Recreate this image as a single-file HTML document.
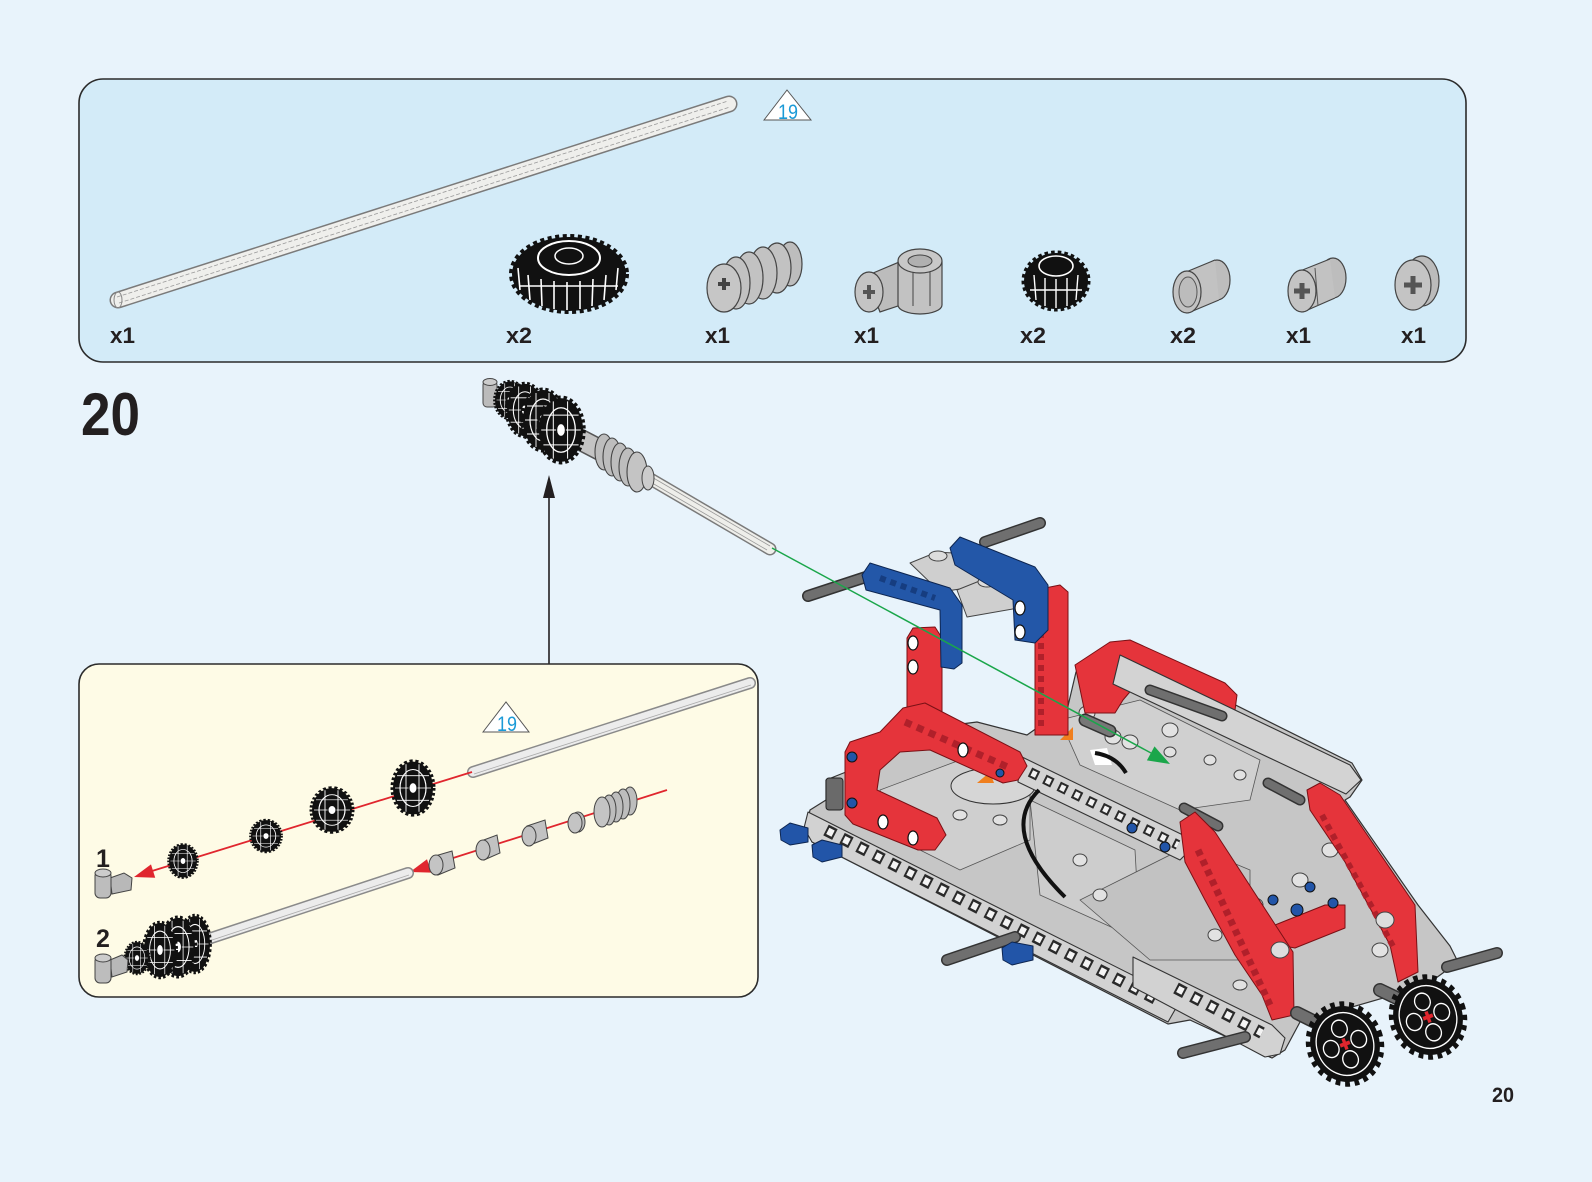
<!DOCTYPE html>
<html><head><meta charset="utf-8"><style>
html,body{margin:0;padding:0;background:#e8f3fb;}
svg{display:block;}
text{font-family:"Liberation Sans",sans-serif;fill:#231f20;}
</style></head><body>
<svg width="1592" height="1182" viewBox="0 0 1592 1182" xmlns="http://www.w3.org/2000/svg">
<defs>
 <g id="gs">
  <ellipse rx="20" ry="30" fill="#111" stroke="#111" stroke-width="5" stroke-dasharray="3 2.5"/>
  <ellipse rx="13" ry="21" fill="none" stroke="#fff" stroke-width="1.2"/>
  <path d="M-16,-14 L16,-14 M-18,0 L18,0 M-16,14 L16,14 M-7,-27 L-7,27 M6,-27 L6,27" stroke="#fff" stroke-width="0.9" fill="none"/>
  <ellipse rx="4" ry="6" fill="#fff" stroke="#111"/>
 </g>
 <g id="gf">
  <circle r="40" fill="#111" stroke="#111" stroke-width="10" stroke-dasharray="5.2 5.2"/>
  <circle r="33" fill="none" stroke="#fff" stroke-width="1.5"/>
  <circle cx="0" cy="-17" r="9" fill="#111" stroke="#fff" stroke-width="1.5"/>
  <circle cx="17" cy="0" r="9" fill="#111" stroke="#fff" stroke-width="1.5"/>
  <circle cx="0" cy="17" r="9" fill="#111" stroke="#fff" stroke-width="1.5"/>
  <circle cx="-17" cy="0" r="9" fill="#111" stroke="#fff" stroke-width="1.5"/>
  <path d="M-6,-2 L6,-2 L6,2 L-6,2 Z M-2,-6 L2,-6 L2,6 L-2,6 Z" fill="#e0262e"/>
 </g>
</defs>

<rect width="1592" height="1182" fill="#e8f3fb"/>

<!-- PARTS PANEL -->
<rect x="79" y="79" width="1387" height="283" rx="24" fill="#d3ebf8" stroke="#2b2b2b" stroke-width="1.6"/>

<!-- long axle -->
<line x1="118" y1="300" x2="729" y2="104" stroke="#7a7a7a" stroke-width="17" stroke-linecap="round"/>
<line x1="118" y1="300" x2="729" y2="104" stroke="#efefec" stroke-width="14" stroke-linecap="round"/>
<line x1="119" y1="303" x2="730" y2="107" stroke="#9a9a9a" stroke-width="0.8" stroke-dasharray="4 2"/>
<line x1="117" y1="297" x2="728" y2="101" stroke="#9a9a9a" stroke-width="0.8" stroke-dasharray="4 2"/>
<ellipse cx="118" cy="300" rx="4" ry="8" fill="none" stroke="#888" stroke-width="1"/>

<!-- triangle 19 -->
<polygon points="764,120 787,90 811,120" fill="#ffffff" stroke="#555" stroke-width="1"/>
<text x="778" y="119" font-size="21" textLength="20" lengthAdjust="spacingAndGlyphs" style="fill:#1b9ad7">19</text>

<!-- gear x2 -->
<ellipse cx="569" cy="274" rx="57" ry="37" fill="#111" stroke="#111" stroke-width="6" stroke-dasharray="4 3.5"/>
<ellipse cx="569" cy="258" rx="31" ry="17" fill="none" stroke="#fff" stroke-width="2"/>
<ellipse cx="569" cy="256" rx="14" ry="8" fill="none" stroke="#fff" stroke-width="1.5"/>
<path d="M528,275 L530,300 M541,279 L542,306 M554,281 L554,309 M567,282 L567,310 M580,281 L580,309 M593,279 L592,306 M606,275 L604,300 M518,268 L520,290 M618,268 L616,290 M520,286 L618,286" stroke="#fff" stroke-width="1.6" fill="none"/>

<!-- worm -->
<ellipse cx="790" cy="264" rx="12" ry="22" fill="#bdbdbd" stroke="#444" stroke-width="1.2"/>
<ellipse cx="777" cy="268" rx="14" ry="25" fill="#c2c2c2" stroke="#444" stroke-width="1.2"/>
<ellipse cx="763" cy="273" rx="14" ry="26" fill="#c2c2c2" stroke="#444" stroke-width="1.2"/>
<ellipse cx="749" cy="278" rx="14" ry="26" fill="#c2c2c2" stroke="#444" stroke-width="1.2"/>
<ellipse cx="736" cy="283" rx="14" ry="26" fill="#c2c2c2" stroke="#444" stroke-width="1.2"/>
<ellipse cx="724" cy="288" rx="17" ry="24" fill="#c6c6c6" stroke="#444" stroke-width="1.2"/>
<path d="M718,284 h12 M724,278 v12" stroke="#444" stroke-width="4"/>

<!-- pin connector -->
<path d="M866,276 L904,260 L916,262 L916,300 L880,312 Z" fill="#bcbcbc" stroke="#444" stroke-width="1.2"/>
<path d="M898,262 L898,305 A22,9 0 0 0 942,305 L942,262 Z" fill="#c2c2c2" stroke="#444" stroke-width="1.2"/>
<ellipse cx="920" cy="261" rx="22" ry="12" fill="#c8c8c8" stroke="#444" stroke-width="1.2"/>
<ellipse cx="920" cy="261" rx="12" ry="6" fill="#b0b0b0" stroke="#444" stroke-width="1"/>
<line x1="913" y1="272" x2="913" y2="306" stroke="#444" stroke-width="1"/>
<line x1="930" y1="272" x2="930" y2="306" stroke="#444" stroke-width="1"/>
<ellipse cx="869" cy="292" rx="14" ry="20" fill="#c4c4c4" stroke="#444" stroke-width="1.2"/>
<path d="M863,292 h12 M869,285 v14" stroke="#555" stroke-width="4"/>

<!-- small gear x2 -->
<ellipse cx="1056" cy="281" rx="32" ry="28" fill="#111" stroke="#111" stroke-width="5" stroke-dasharray="3.5 3"/>
<ellipse cx="1056" cy="266" rx="17" ry="10" fill="none" stroke="#fff" stroke-width="1.6"/>
<path d="M1034,275 L1036,300 M1045,278 L1045,306 M1056,279 L1056,308 M1067,278 L1067,306 M1078,275 L1076,300 M1030,290 L1082,290" stroke="#fff" stroke-width="1.4" fill="none"/>

<!-- bushing -->
<ellipse cx="1217" cy="280" rx="13" ry="20" fill="#bdbdbd" stroke="#444" stroke-width="1.2"/>
<polygon points="1186,272 1215,260 1219,300 1188,313" fill="#c2c2c2"/>
<line x1="1186" y1="272" x2="1215" y2="260" stroke="#444" stroke-width="1.2"/>
<line x1="1188" y1="313" x2="1219" y2="300" stroke="#444" stroke-width="1.2"/>
<ellipse cx="1187" cy="292" rx="14" ry="21" fill="#c2c2c2" stroke="#444" stroke-width="1.2"/>
<ellipse cx="1188" cy="292" rx="9" ry="15" fill="#bcbcbc" stroke="#555" stroke-width="1"/>

<!-- axle connector -->
<ellipse cx="1333" cy="278" rx="13" ry="20" fill="#bdbdbd" stroke="#444" stroke-width="1.2"/>
<polygon points="1300,272 1330,259 1335,298 1303,312" fill="#c2c2c2"/>
<line x1="1300" y1="271" x2="1330" y2="259" stroke="#444" stroke-width="1.2"/>
<line x1="1303" y1="312" x2="1335" y2="298" stroke="#444" stroke-width="1.2"/>
<line x1="1315" y1="268" x2="1318" y2="306" stroke="#555" stroke-width="1"/>
<ellipse cx="1302" cy="291" rx="14" ry="21" fill="#c4c4c4" stroke="#444" stroke-width="1.2"/>
<path d="M1294,291 h16 M1302,283 v16" stroke="#555" stroke-width="5"/>

<!-- half bush -->
<ellipse cx="1422" cy="281" rx="17" ry="25" fill="#bbb" stroke="#444" stroke-width="1.2"/>
<ellipse cx="1413" cy="285" rx="18" ry="25" fill="#c4c4c4" stroke="#444" stroke-width="1.2"/>
<path d="M1404,285 h18 M1413,276 v18" stroke="#555" stroke-width="5"/>

<!-- quantities -->
<g font-size="22" font-weight="bold">
<text x="110" y="343" textLength="25" lengthAdjust="spacingAndGlyphs">x1</text>
<text x="506" y="343" textLength="26" lengthAdjust="spacingAndGlyphs">x2</text>
<text x="705" y="343" textLength="25" lengthAdjust="spacingAndGlyphs">x1</text>
<text x="854" y="343" textLength="25" lengthAdjust="spacingAndGlyphs">x1</text>
<text x="1020" y="343" textLength="26" lengthAdjust="spacingAndGlyphs">x2</text>
<text x="1170" y="343" textLength="26" lengthAdjust="spacingAndGlyphs">x2</text>
<text x="1286" y="343" textLength="25" lengthAdjust="spacingAndGlyphs">x1</text>
<text x="1401" y="343" textLength="25" lengthAdjust="spacingAndGlyphs">x1</text>
</g>

<!-- step number -->
<text x="81" y="435" font-size="60" font-weight="bold" textLength="59" lengthAdjust="spacingAndGlyphs">20</text>

<!-- MAIN SUBASSEMBLY (top) -->
<line x1="647" y1="477" x2="770" y2="549" stroke="#7a7a7a" stroke-width="13" stroke-linecap="round"/>
<line x1="647" y1="477" x2="770" y2="549" stroke="#eeeeea" stroke-width="10" stroke-linecap="round"/>
<line x1="650" y1="476" x2="770" y2="546" stroke="#999" stroke-width="0.8"/>
<line x1="647" y1="480" x2="767" y2="550" stroke="#999" stroke-width="0.8"/>
<line x1="552" y1="425" x2="604" y2="452" stroke="#555" stroke-width="22" stroke-linecap="round"/>
<line x1="552" y1="425" x2="604" y2="452" stroke="#c4c4c4" stroke-width="19" stroke-linecap="round"/>
<ellipse cx="604" cy="452" rx="9" ry="18" fill="#bdbdbd" stroke="#444" stroke-width="1.1"/>
<ellipse cx="612" cy="457" rx="9" ry="19" fill="#bdbdbd" stroke="#444" stroke-width="1.1"/>
<ellipse cx="620" cy="462" rx="9" ry="19" fill="#bdbdbd" stroke="#444" stroke-width="1.1"/>
<ellipse cx="628" cy="467" rx="9" ry="19" fill="#bdbdbd" stroke="#444" stroke-width="1.1"/>
<ellipse cx="637" cy="472" rx="10" ry="20" fill="#c4c4c4" stroke="#444" stroke-width="1.1"/>
<ellipse cx="648" cy="478" rx="6" ry="12" fill="#ccc" stroke="#444" stroke-width="1"/>
<rect x="483" y="381" width="14" height="26" rx="4" fill="#bbb" stroke="#444" stroke-width="1"/>
<ellipse cx="490" cy="382" rx="7" ry="3.5" fill="#ccc" stroke="#444" stroke-width="1"/>
<use href="#gs" transform="translate(510,400) scale(0.75,0.62)"/>
<use href="#gs" transform="translate(525,410) scale(0.9,0.87)"/>
<use href="#gs" transform="translate(543,420) scale(1.0,1.0)"/>
<use href="#gs" transform="translate(561,430) scale(1.1,1.06)"/>

<!-- up arrow -->
<line x1="549" y1="664" x2="549" y2="495" stroke="#231f20" stroke-width="1.6"/>
<polygon points="549,475 543,498 555,498" fill="#231f20"/>

<!-- YELLOW PANEL -->
<rect x="79" y="664" width="679" height="333" rx="20" fill="#fefbe6" stroke="#2b2b2b" stroke-width="1.6"/>
<polygon points="483,732 506,702 529,732" fill="#ffffff" stroke="#555" stroke-width="1"/>
<text x="497" y="731" font-size="21" textLength="20" lengthAdjust="spacingAndGlyphs" style="fill:#1b9ad7">19</text>

<!-- long axle in sub panel -->
<line x1="473" y1="772" x2="750" y2="683" stroke="#8a8a8a" stroke-width="12" stroke-linecap="round"/>
<line x1="473" y1="772" x2="750" y2="683" stroke="#ececec" stroke-width="9" stroke-linecap="round"/>
<line x1="474" y1="774" x2="751" y2="685" stroke="#aaa" stroke-width="0.8"/>
<!-- red line 1 -->
<line x1="472" y1="772" x2="152" y2="871" stroke="#e0262e" stroke-width="1.8"/>
<polygon points="134,877 155.2,877.8 151,864.4" fill="#e0262e"/>
<use href="#gs" transform="translate(413,788) scale(1.0,0.88)"/>
<use href="#gs" transform="translate(332,810) scale(1.0,0.73)"/>
<use href="#gs" transform="translate(266,836) scale(0.75,0.53)"/>
<use href="#gs" transform="translate(183,861) scale(0.7,0.55)"/>
<!-- connector 1 -->
<polygon points="110,878 124,873 132,878 131,890 112,894" fill="#b8b8b8" stroke="#444" stroke-width="1"/>
<rect x="95" y="871" width="16" height="27" rx="5" fill="#bdbdbd" stroke="#444" stroke-width="1"/>
<ellipse cx="103" cy="873" rx="8" ry="4" fill="#ccc" stroke="#444" stroke-width="1"/>
<text x="96" y="867" font-size="25" font-weight="bold">1</text>

<!-- red line 2 -->
<line x1="667" y1="790" x2="428" y2="866" stroke="#e0262e" stroke-width="1.8"/>
<polygon points="410,872 431.2,872.6 427,859.2" fill="#e0262e"/>
<!-- worm -->
<ellipse cx="630" cy="801" rx="7" ry="14" fill="#bdbdbd" stroke="#444" stroke-width="1"/>
<ellipse cx="623" cy="804" rx="7" ry="15" fill="#bdbdbd" stroke="#444" stroke-width="1"/>
<ellipse cx="616" cy="807" rx="7" ry="15" fill="#bdbdbd" stroke="#444" stroke-width="1"/>
<ellipse cx="609" cy="810" rx="7" ry="15" fill="#bdbdbd" stroke="#444" stroke-width="1"/>
<ellipse cx="602" cy="812" rx="8" ry="15" fill="#c4c4c4" stroke="#444" stroke-width="1"/>
<!-- half bush -->
<ellipse cx="578" cy="822" rx="7" ry="10" fill="#bbb" stroke="#444" stroke-width="1"/>
<ellipse cx="575" cy="823" rx="7" ry="10" fill="#c4c4c4" stroke="#444" stroke-width="1"/>
<!-- bushings -->
<polygon points="527,826 545,820 548,838 530,845" fill="#c2c2c2" stroke="#444" stroke-width="1"/>
<ellipse cx="529" cy="836" rx="7" ry="10" fill="#c2c2c2" stroke="#444" stroke-width="1"/>
<polygon points="481,841 497,835 500,853 484,860" fill="#c2c2c2" stroke="#444" stroke-width="1"/>
<ellipse cx="483" cy="850" rx="7" ry="10" fill="#c2c2c2" stroke="#444" stroke-width="1"/>
<!-- axle connector -->
<polygon points="435,856 452,851 455,868 438,875" fill="#c2c2c2" stroke="#444" stroke-width="1"/>
<ellipse cx="436" cy="865" rx="7" ry="10" fill="#c4c4c4" stroke="#444" stroke-width="1"/>
<!-- axle 2 -->
<line x1="408" y1="873" x2="205" y2="940" stroke="#8a8a8a" stroke-width="12" stroke-linecap="round"/>
<line x1="408" y1="873" x2="205" y2="940" stroke="#ececec" stroke-width="9" stroke-linecap="round"/>
<line x1="409" y1="875" x2="206" y2="942" stroke="#aaa" stroke-width="0.8"/>
<use href="#gs" transform="translate(195,944) scale(0.75,0.93)"/>
<use href="#gs" transform="translate(178,947) scale(0.85,0.97)"/>
<use href="#gs" transform="translate(160,950) scale(0.8,0.9)"/>
<use href="#gs" transform="translate(137,958) scale(0.6,0.53)"/>
<polygon points="110,960 122,955 128,960 127,972 112,977" fill="#b8b8b8" stroke="#444" stroke-width="1"/>
<rect x="95" y="956" width="16" height="27" rx="5" fill="#bdbdbd" stroke="#444" stroke-width="1"/>
<ellipse cx="103" cy="958" rx="8" ry="4" fill="#ccc" stroke="#444" stroke-width="1"/>
<text x="96" y="947" font-size="25" font-weight="bold">2</text>

<!-- MODEL -->
<g stroke-linejoin="round">
 <!-- top axles -->
 <line x1="808" y1="596" x2="878" y2="573" stroke="#333" stroke-width="12" stroke-linecap="round"/>
 <line x1="808" y1="596" x2="878" y2="573" stroke="#6f6f6f" stroke-width="9" stroke-linecap="round"/>
 <line x1="985" y1="542" x2="1040" y2="523" stroke="#333" stroke-width="12" stroke-linecap="round"/>
 <line x1="985" y1="542" x2="1040" y2="523" stroke="#6f6f6f" stroke-width="9" stroke-linecap="round"/>

 <!-- chassis base -->
 <path d="M806,826 L810,810 L826,800 L826,780 L846,772 L846,752 L930,728 L977,722 L1027,735 L1068,706 L1076,672 L1112,648 L1135,655 L1352,763 L1362,780 L1350,797 L1345,800 L1418,905 L1450,946 L1458,962 L1425,986 L1300,1022 L1285,1050 L1272,1058 L1190,1020 L1168,1024 L812,842 Z" fill="#c6c6c6" stroke="#333" stroke-width="1.2"/>
 <!-- turntable / plates -->
 <path d="M880,790 L960,760 L1030,790 L1030,840 L960,870 L890,835 Z" fill="#cfcfcf" stroke="#555" stroke-width="0.8"/>
 <ellipse cx="993" cy="786" rx="42" ry="18" fill="#d6d6d6" stroke="#333" stroke-width="1"/>
 <path d="M1030,800 L1135,850 L1140,940 L1040,895 Z" fill="#cdcdcd" stroke="#555" stroke-width="0.8"/>
 <path d="M1080,900 L1190,845 L1250,870 L1250,960 L1150,960 Z" fill="#c2c2c2" stroke="#555" stroke-width="0.8"/>
 <path d="M1060,720 L1140,700 L1260,760 L1250,800 L1180,810 L1080,765 Z" fill="#d0d0d0" stroke="#555" stroke-width="0.8"/>
 <!-- some holes on top -->
 <g fill="#e2e2e2" stroke="#444" stroke-width="1">
  <ellipse cx="1133" cy="667" rx="7" ry="6"/><ellipse cx="1170" cy="730" rx="8" ry="7"/><ellipse cx="1130" cy="742" rx="8" ry="7"/>
  <ellipse cx="1087" cy="713" rx="8" ry="7"/><ellipse cx="1113" cy="737" rx="8" ry="7"/><ellipse cx="1170" cy="752" rx="6" ry="5"/>
  <ellipse cx="1210" cy="760" rx="6" ry="5"/><ellipse cx="1240" cy="775" rx="6" ry="5"/><ellipse cx="1000" cy="820" rx="7" ry="5"/>
  <ellipse cx="960" cy="815" rx="7" ry="5"/><ellipse cx="925" cy="820" rx="7" ry="5"/><ellipse cx="1080" cy="860" rx="7" ry="6"/>
  <ellipse cx="1100" cy="895" rx="7" ry="6"/><ellipse cx="1230" cy="880" rx="8" ry="7"/><ellipse cx="1255" cy="905" rx="8" ry="7"/>
  <ellipse cx="1300" cy="880" rx="8" ry="7"/><ellipse cx="1330" cy="850" rx="8" ry="7"/><ellipse cx="1215" cy="935" rx="7" ry="6"/>
  <ellipse cx="1380" cy="950" rx="8" ry="7"/><ellipse cx="1240" cy="985" rx="7" ry="5"/><ellipse cx="1270" cy="955" rx="7" ry="6"/>
 </g>

 <!-- red back-right frame -->
 <path d="M1075,665 L1110,642 L1130,640 L1225,683 L1237,695 L1235,710 L1222,713 L1140,680 L1123,700 L1115,713 L1085,713 Z" fill="#e5343b" stroke="#7a1015" stroke-width="1"/>
 <!-- right upper gray beam -->
 <path d="M1120,655 L1350,765 L1361,780 L1346,794 L1113,684 Z" fill="#d3d3d3" stroke="#333" stroke-width="1.1"/>
 <!-- dark axles on top -->
 <line x1="1150" y1="690" x2="1222" y2="716" stroke="#333" stroke-width="11" stroke-linecap="round"/>
 <line x1="1150" y1="690" x2="1222" y2="716" stroke="#6f6f6f" stroke-width="8" stroke-linecap="round"/>
 <line x1="1085" y1="720" x2="1110" y2="731" stroke="#333" stroke-width="13" stroke-linecap="round"/>
 <line x1="1085" y1="720" x2="1110" y2="731" stroke="#777" stroke-width="10" stroke-linecap="round"/>
 <line x1="1268" y1="783" x2="1300" y2="800" stroke="#333" stroke-width="11" stroke-linecap="round"/>
 <line x1="1268" y1="783" x2="1300" y2="800" stroke="#6f6f6f" stroke-width="8" stroke-linecap="round"/>
 <line x1="1184" y1="808" x2="1218" y2="826" stroke="#333" stroke-width="11" stroke-linecap="round"/>
 <line x1="1184" y1="808" x2="1218" y2="826" stroke="#6f6f6f" stroke-width="8" stroke-linecap="round"/>

 <!-- middle beam -->
 <path d="M1020,756 L1185,836 L1192,848 L1180,860 L1018,782 Z" fill="#d3d3d3" stroke="#333" stroke-width="1.1"/>
 <line x1="1030" y1="772" x2="1178" y2="845" stroke="#2a2a2a" stroke-width="10" stroke-dasharray="9 7"/>
 <line x1="1030" y1="772" x2="1178" y2="845" stroke="#f2f2f2" stroke-width="6" stroke-dasharray="5 11" stroke-dashoffset="-2"/>
 <circle cx="1132" cy="828" r="5" fill="#2255a8" stroke="#111" stroke-width="1"/>
 <circle cx="1165" cy="847" r="5" fill="#2255a8" stroke="#111" stroke-width="1"/>

 <!-- curved black arrows -->
 <path d="M1090,750 L1107,748 L1112,765 L1095,765 Z" fill="#fff"/>
 <path d="M1095,753 Q1116,756 1126,773" stroke="#111" stroke-width="4" fill="none"/>
 <path d="M1039,790 Q998,831 1065,897" stroke="#111" stroke-width="4" fill="none"/>
 <!-- orange bits -->
 <polygon points="1060,740 1073,727 1073,740" fill="#f07f1e"/>
 <polygon points="977,783 990,772 994,783" fill="#f07f1e"/>

 <!-- front beam A -->
 <path d="M808,812 L1170,994 L1176,1008 L1168,1022 L812,842 L804,828 Z" fill="#d2d2d2" stroke="#333" stroke-width="1.1"/>
 <line x1="826" y1="830" x2="1160" y2="1001" stroke="#2a2a2a" stroke-width="12" stroke-dasharray="10 8"/>
 <line x1="826" y1="830" x2="1160" y2="1001" stroke="#f4f4f4" stroke-width="7" stroke-dasharray="6 12" stroke-dashoffset="-2"/>
 <!-- beam B -->
 <path d="M1133,957 L1272,1025 L1285,1038 L1280,1054 L1265,1057 L1133,987 Z" fill="#d2d2d2" stroke="#333" stroke-width="1.1"/>
 <line x1="1176" y1="988" x2="1262" y2="1033" stroke="#2a2a2a" stroke-width="12" stroke-dasharray="10 8"/>
 <line x1="1176" y1="988" x2="1262" y2="1033" stroke="#f4f4f4" stroke-width="7" stroke-dasharray="6 12" stroke-dashoffset="-2"/>

 <!-- dark connector left -->
 <rect x="826" y="778" width="17" height="32" rx="3" fill="#6a6a6a" stroke="#222" stroke-width="1"/>
 <!-- blue pins -->
 <polygon points="780,830 790,823 808,828 808,842 790,845 781,840" fill="#2255a8" stroke="#0d2550" stroke-width="1"/>
 <polygon points="812,845 822,840 842,845 842,857 822,862 813,857" fill="#2255a8" stroke="#0d2550" stroke-width="1"/>
 <!-- bottom-left axle -->
 <line x1="947" y1="960" x2="1015" y2="937" stroke="#333" stroke-width="12" stroke-linecap="round"/>
 <line x1="947" y1="960" x2="1015" y2="937" stroke="#6f6f6f" stroke-width="9" stroke-linecap="round"/>
 <polygon points="1002,948 1012,942 1033,946 1033,960 1012,965 1003,960" fill="#2255a8" stroke="#0d2550" stroke-width="1"/>

 <!-- red pillars -->
 <path d="M1035,600 L1045,588 L1060,585 L1068,592 L1068,735 L1035,735 Z" fill="#e5343b" stroke="#7a1015" stroke-width="1"/>
 <line x1="1041" y1="610" x2="1041" y2="730" stroke="#b0202a" stroke-width="6" stroke-dasharray="6 5"/>
 <path d="M907,638 L913,628 L935,627 L942,638 L942,720 L907,720 Z" fill="#e5343b" stroke="#7a1015" stroke-width="1"/>
 <!-- gray cross connectors -->
 <path d="M910,563 L937,552 L953,553 L980,573 L980,586 L940,592 Z" fill="#cfcfcf" stroke="#444" stroke-width="1"/>
 <path d="M957,590 L987,578 L1013,582 L1030,592 L1030,606 L967,617 Z" fill="#cfcfcf" stroke="#444" stroke-width="1"/>
 <ellipse cx="938" cy="556" rx="9" ry="5" fill="#ddd" stroke="#444" stroke-width="1"/>
 <ellipse cx="987" cy="582" rx="9" ry="5" fill="#ddd" stroke="#444" stroke-width="1"/>
 <!-- blue beams -->
 <path d="M950,548 L960,537 L1035,567 L1048,585 L1048,630 L1035,643 L1015,640 L1013,600 L955,565 Z" fill="#2357a8" stroke="#0d2550" stroke-width="1"/>
 <path d="M862,575 L870,563 L950,588 L962,605 L962,663 L954,669 L941,667 L940,610 L866,590 Z" fill="#2357a8" stroke="#0d2550" stroke-width="1"/>
 <g fill="#fff" stroke="#111" stroke-width="1.2">
  <ellipse cx="1020" cy="608" rx="5" ry="7"/><ellipse cx="1020" cy="632" rx="5" ry="7"/>
  <ellipse cx="913" cy="643" rx="5" ry="7"/><ellipse cx="913" cy="667" rx="5" ry="7"/>
 </g>
 <path d="M880,578 L935,598" stroke="#163d80" stroke-width="6" stroke-dasharray="6 5"/>

 <!-- red front L -->
 <path d="M845,752 L850,742 L880,732 L903,708 L925,703 L1020,752 L1027,766 L1018,780 L1003,783 L930,750 L900,752 L880,770 L877,790 L937,818 L946,835 L935,850 L918,850 L853,824 L845,815 Z" fill="#e5343b" stroke="#7a1015" stroke-width="1"/>
 <line x1="905" y1="722" x2="1010" y2="768" stroke="#b0202a" stroke-width="7" stroke-dasharray="7 6"/>
 <g fill="#fff" stroke="#111" stroke-width="1.2">
  <ellipse cx="963" cy="750" rx="5" ry="7"/><ellipse cx="883" cy="822" rx="5" ry="7"/><ellipse cx="913" cy="838" rx="5" ry="7"/>
 </g>
 <circle cx="852" cy="757" r="5" fill="#2255a8" stroke="#111" stroke-width="1"/>
 <circle cx="852" cy="803" r="5" fill="#2255a8" stroke="#111" stroke-width="1"/>
 <circle cx="1000" cy="773" r="4" fill="#2255a8" stroke="#111" stroke-width="1"/>

 <!-- red right arms -->
 <path d="M1307,790 L1320,783 L1340,795 L1415,905 L1418,972 L1398,982 L1390,945 L1345,862 L1310,810 Z" fill="#e5343b" stroke="#7a1015" stroke-width="1"/>
 <line x1="1322" y1="815" x2="1395" y2="950" stroke="#b0202a" stroke-width="6" stroke-dasharray="6 5"/>
 <path d="M1275,925 L1325,905 L1345,905 L1345,928 L1295,948 L1278,945 Z" fill="#e5343b" stroke="#7a1015" stroke-width="1"/>
 <path d="M1180,822 L1195,812 L1215,832 L1293,952 L1294,1015 L1272,1020 L1262,995 L1235,955 L1205,900 L1185,862 Z" fill="#e5343b" stroke="#7a1015" stroke-width="1"/>
 <line x1="1198" y1="850" x2="1270" y2="1005" stroke="#b0202a" stroke-width="7" stroke-dasharray="6 5"/>
 <circle cx="1273" cy="900" r="5" fill="#2255a8" stroke="#111" stroke-width="1"/>
 <circle cx="1297" cy="910" r="6" fill="#2255a8" stroke="#111" stroke-width="1"/>
 <circle cx="1310" cy="887" r="5" fill="#2255a8" stroke="#111" stroke-width="1"/>
 <circle cx="1333" cy="903" r="5" fill="#2255a8" stroke="#111" stroke-width="1"/>
 <ellipse cx="1280" cy="950" rx="9" ry="8" fill="#ddd" stroke="#444" stroke-width="1"/>
 <ellipse cx="1385" cy="920" rx="9" ry="8" fill="#ddd" stroke="#444" stroke-width="1"/>

 <!-- bottom-right axles -->
 <line x1="1183" y1="1053" x2="1245" y2="1037" stroke="#333" stroke-width="12" stroke-linecap="round"/>
 <line x1="1183" y1="1053" x2="1245" y2="1037" stroke="#6f6f6f" stroke-width="9" stroke-linecap="round"/>
 <line x1="1447" y1="967" x2="1497" y2="953" stroke="#333" stroke-width="12" stroke-linecap="round"/>
 <line x1="1447" y1="967" x2="1497" y2="953" stroke="#6f6f6f" stroke-width="9" stroke-linecap="round"/>
 <line x1="1297" y1="1013" x2="1327" y2="1028" stroke="#333" stroke-width="14" stroke-linecap="round"/>
 <line x1="1297" y1="1013" x2="1327" y2="1028" stroke="#6f6f6f" stroke-width="11" stroke-linecap="round"/>
 <line x1="1380" y1="990" x2="1407" y2="1003" stroke="#333" stroke-width="14" stroke-linecap="round"/>
 <line x1="1380" y1="990" x2="1407" y2="1003" stroke="#6f6f6f" stroke-width="11" stroke-linecap="round"/>

 <!-- gears -->
 <use href="#gf" transform="translate(1428,1017) rotate(-20) scale(0.86,0.96)"/>
 <use href="#gf" transform="translate(1345,1044) rotate(-20) scale(0.86,0.96)"/>
</g>

<!-- green guide line -->
<line x1="772" y1="548" x2="1151" y2="753" stroke="#1aa64a" stroke-width="1.5"/>
<polygon points="1170,764 1146.9,760.4 1154.5,746.4" fill="#1aa64a"/>

<!-- page number -->
<text x="1492" y="1102" font-size="21" font-weight="bold" textLength="22" lengthAdjust="spacingAndGlyphs">20</text>
</svg>
</body></html>
